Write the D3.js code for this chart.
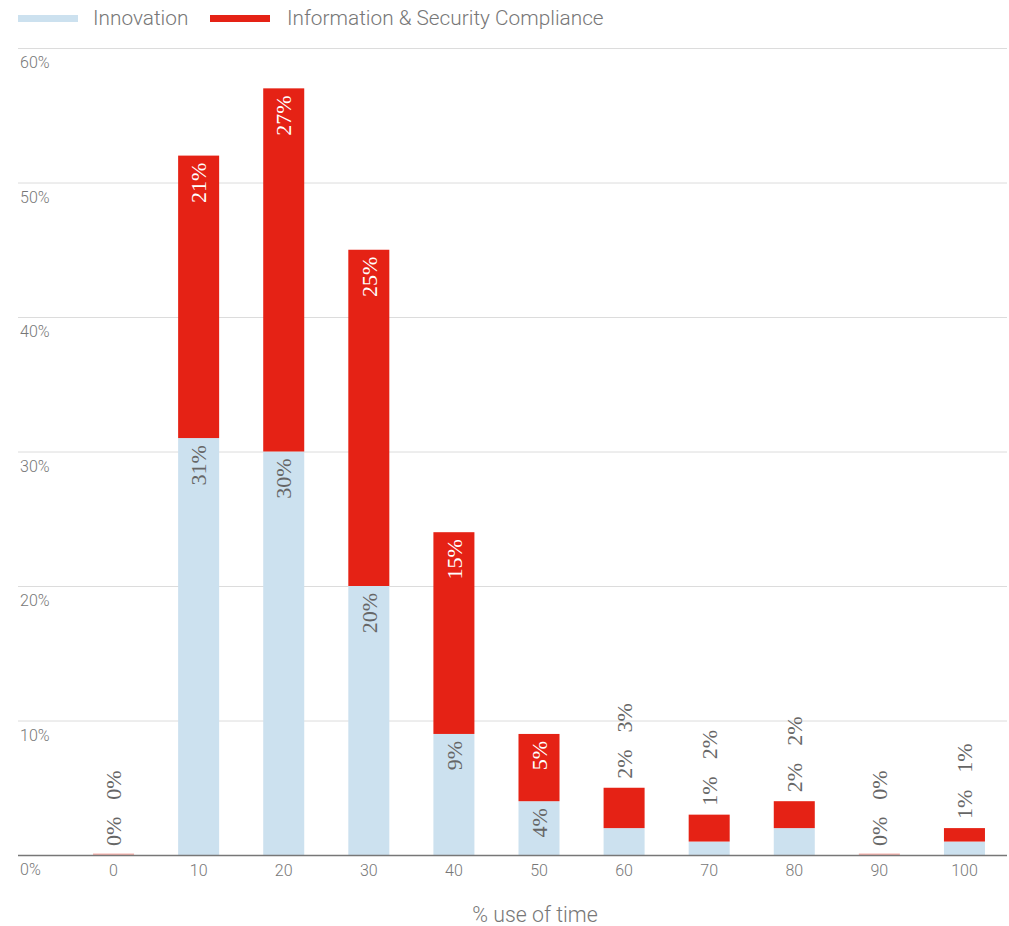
<!DOCTYPE html>
<html>
<head>
<meta charset="utf-8">
<script src="https://cdn.jsdelivr.net/npm/d3@7"></script>
<style>
  html, body { margin: 0; padding: 0; background: #fff; }
  svg { display: block; }
  .sans { font-family: "Roboto", "Liberation Sans", sans-serif; font-weight: 300; }
  .val { font-family: "Liberation Serif", "DejaVu Serif", serif; }
</style>
</head>
<body>
<svg id="chart" width="1009" height="926"></svg>
<script>
// Share of time spent, by bucket of "% use of time"
const categories = ["0", "10", "20", "30", "40", "50", "60", "70", "80", "90", "100"];
const innovation = [0, 31, 30, 20, 9, 4, 2, 1, 2, 0, 1];
const compliance = [0, 21, 27, 25, 15, 5, 3, 2, 2, 0, 1];
const yTicks = [0, 10, 20, 30, 40, 50, 60];
const seriesNames = ["Innovation", "Information & Security Compliance"];
const xTitle = "% use of time";

const colors = { innovation: "#cce1ef", compliance: "#e52215" };

const svg = d3.select("#chart");
const gridLeft = 18, gridRight = 1007;
const plotTop = 48, plotBottom = 855;

const x = d3.scaleBand()
  .domain(categories)
  .range([71, gridRight])
  .paddingInner(0.518)
  .paddingOuter(0.259);

const y = d3.scaleLinear().domain([0, 60]).range([plotBottom, plotTop]);

// Gridlines and y tick labels (labels sit just below their line)
const grid = svg.append("g");
grid.selectAll("line").data(yTicks.filter(t => t > 0)).join("line")
  .attr("x1", gridLeft).attr("x2", gridRight)
  .attr("y1", d => y(d) + 0.5).attr("y2", d => y(d) + 0.5)
  .attr("stroke", "#dcdcdc").attr("stroke-width", 1);
grid.selectAll("text").data(yTicks).join("text")
  .attr("class", "sans")
  .attr("x", 20).attr("y", d => y(d) + 20)
  .attr("font-size", 16).attr("fill", "#777")
  .text(d => d + "%");

// Stacked bars
const rows = categories.map((c, i) => ({ c, inn: innovation[i], comp: compliance[i] }));
const bars = svg.append("g");
rows.forEach(r => {
  const bx = x(r.c), bw = x.bandwidth();
  const innTop = y(r.inn), totTop = y(r.inn + r.comp);
  bars.append("rect")
    .attr("x", bx).attr("width", bw)
    .attr("y", innTop).attr("height", plotBottom - innTop)
    .attr("fill", colors.innovation);
  const ch = innTop - totTop;
  bars.append("rect")
    .attr("x", bx).attr("width", bw)
    .attr("y", ch > 0 ? totTop : plotBottom - 1.5).attr("height", ch > 0 ? ch : 1.5)
    .attr("fill", colors.compliance)
    .attr("opacity", ch > 0 ? 1 : 0.35);
});

// Baseline
svg.append("line")
  .attr("x1", gridLeft).attr("x2", gridRight)
  .attr("y1", plotBottom + 0.5).attr("y2", plotBottom + 0.5)
  .attr("stroke", "#777").attr("stroke-width", 1.5);

// X axis tick labels
const xAxis = svg.append("g")
  .attr("transform", `translate(0,${plotBottom})`)
  .call(d3.axisBottom(x).tickSize(0).tickPadding(0));
xAxis.select(".domain").remove();
xAxis.selectAll("text")
  .attr("class", "sans")
  .attr("y", 21).attr("dy", 0)
  .attr("font-size", 16).attr("fill", "#777");

// X axis title
svg.append("text").attr("class", "sans")
  .attr("x", 535).attr("y", 922)
  .attr("text-anchor", "middle")
  .attr("font-size", 21.3).attr("fill", "#777")
  .text(xTitle);

// Value labels, rotated to read bottom-to-top
const labels = svg.append("g").attr("class", "val");
const fs = 22;
function vlabel(cx, yy, txt, anchor, fill) {
  return labels.append("text")
    .attr("transform", `translate(${cx},${yy}) rotate(-90)`)
    .attr("text-anchor", anchor)
    .attr("dy", "0.35em")
    .attr("font-size", fs)
    .attr("fill", fill)
    .text(txt);
}
rows.forEach(r => {
  const cx = x(r.c) + x.bandwidth() / 2;
  const innTop = y(r.inn), totTop = y(r.inn + r.comp);
  if (r.inn >= 4 && r.comp >= 4) {
    vlabel(cx, innTop + 7, r.inn + "%", "end", "#666");
    vlabel(cx, totTop + 7, r.comp + "%", "end", "#fff");
  } else {
    const first = vlabel(cx, totTop - 9, r.inn + "%", "start", "#666");
    const len = first.node().getComputedTextLength();
    vlabel(cx, totTop - 9 - len - 17, r.comp + "%", "start", "#666");
  }
});

// Legend
const legend = svg.append("g");
const legendItems = [
  { name: seriesNames[0], color: colors.innovation, sx: 18, tx: 93 },
  { name: seriesNames[1], color: colors.compliance, sx: 210, tx: 287 }
];
legendItems.forEach(d => {
  legend.append("rect").attr("x", d.sx).attr("y", 15).attr("width", 60).attr("height", 7).attr("fill", d.color);
  legend.append("text").attr("class", "sans")
    .attr("x", d.tx).attr("y", 25)
    .attr("font-size", 20.8).attr("fill", "#777")
    .text(d.name);
});
</script>
</body>
</html>
